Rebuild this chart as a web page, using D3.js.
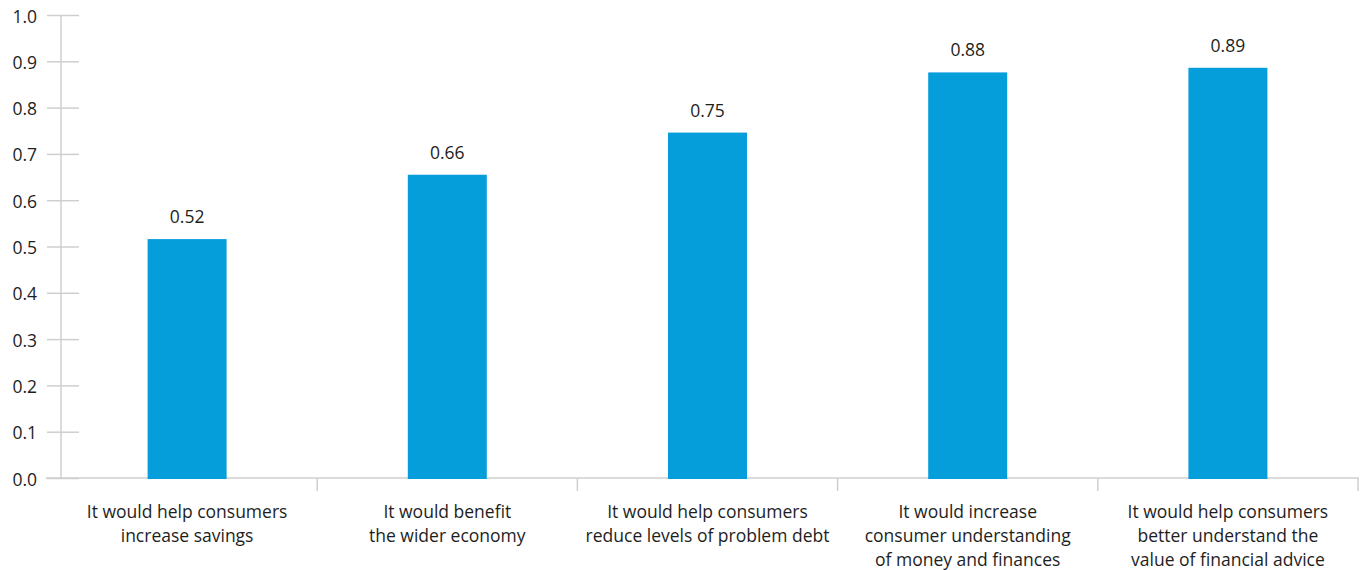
<!DOCTYPE html>
<html>
<head>
<meta charset="utf-8">
<script src="https://cdn.jsdelivr.net/npm/d3@7"></script>
<style>
  body { margin: 0; background: #fff; }
  text { font-family: "Open Sans", sans-serif; fill: #1e1e1e; }
</style>
</head>
<body>
<svg id="chart"></svg>
<script>
// categories (two/three-line labels)
const categories = [
	["It would help consumers", "increase savings"],
	["It would benefit", "the wider economy"],
	["It would help consumers", "reduce levels of problem debt"],
	["It would increase", "consumer understanding", "of money and finances"],
	["It would help consumers", "better understand the", "value of financial advice"]
];
const values = [0.516, 0.655, 0.746, 0.876, 0.886];
const valueLabels = ["0.52", "0.66", "0.75", "0.88", "0.89"];
const yTicks = [0, 0.1, 0.2, 0.3, 0.4, 0.5, 0.6, 0.7, 0.8, 0.9, 1.0];

const W = 1364, H = 570;
const svg = d3.select("#chart").attr("width", W).attr("height", H);

const x = d3.scaleBand()
	.domain(d3.range(categories.length))
	.range([57, 1358])
	.paddingInner(0).paddingOuter(0);
const y = d3.scaleLinear().domain([0, 1]).range([478, 15]);

const barW = 79;
const axisColor = "#cfcfcf";
const fontSize = "17.5px";

// y axis
const yAxis = svg.append("g")
	.attr("transform", "translate(61,0)")
	.call(d3.axisLeft(y).tickValues(yTicks).tickFormat(d3.format(".1f")).tickSize(0).tickPadding(24));
yAxis.select(".domain").attr("stroke", axisColor).attr("stroke-width", 1.5)
	.attr("d", `M0,${y(1)}V${y(0)}`);
yAxis.selectAll(".tick line").attr("x1", -14).attr("x2", 18)
	.attr("stroke", axisColor).attr("stroke-width", 1.5);
yAxis.selectAll(".tick text").style("font-size", fontSize).attr("fill", "#1e1e1e").attr("dy", "0.4em");

// x axis
const xAxis = svg.append("g")
	.attr("transform", `translate(0,${y(0)})`);
xAxis.append("line")
	.attr("x1", 46).attr("x2", x.range()[1] + 1)
	.attr("stroke", axisColor).attr("stroke-width", 1.5);
xAxis.selectAll(".sep")
	.data(d3.range(1, categories.length + 1))
	.join("line")
	.attr("class", "sep")
	.attr("x1", i => i < categories.length ? x(i) : x.range()[1])
	.attr("x2", i => i < categories.length ? x(i) : x.range()[1])
	.attr("y1", 0).attr("y2", 13)
	.attr("stroke", axisColor).attr("stroke-width", 1.5);

// bars
svg.selectAll(".bar")
	.data(values)
	.join("rect")
	.attr("class", "bar")
	.attr("x", (d, i) => x(i) + x.bandwidth() / 2 - barW / 2)
	.attr("width", barW)
	.attr("y", d => y(d))
	.attr("height", d => y(0) - y(d) + 1)
	.attr("fill", "#069ddb");

// value labels
svg.selectAll(".val")
	.data(values)
	.join("text")
	.attr("class", "val")
	.attr("x", (d, i) => x(i) + x.bandwidth() / 2)
	.attr("y", d => y(d) - 16)
	.attr("text-anchor", "middle")
	.style("font-size", fontSize)
	.text((d, i) => valueLabels[i]);

// category labels
const cat = svg.selectAll(".cat")
	.data(categories)
	.join("text")
	.attr("class", "cat")
	.attr("text-anchor", "middle")
	.attr("x", (d, i) => x(i) + x.bandwidth() / 2)
	.attr("y", 517.5)
	.style("font-size", fontSize);
cat.selectAll("tspan")
	.data(d => d)
	.join("tspan")
	.attr("x", function () { return this.parentNode.getAttribute("x"); })
	.attr("dy", (d, i) => i === 0 ? 0 : 24)
	.text(d => d);
</script>
</body>
</html>
